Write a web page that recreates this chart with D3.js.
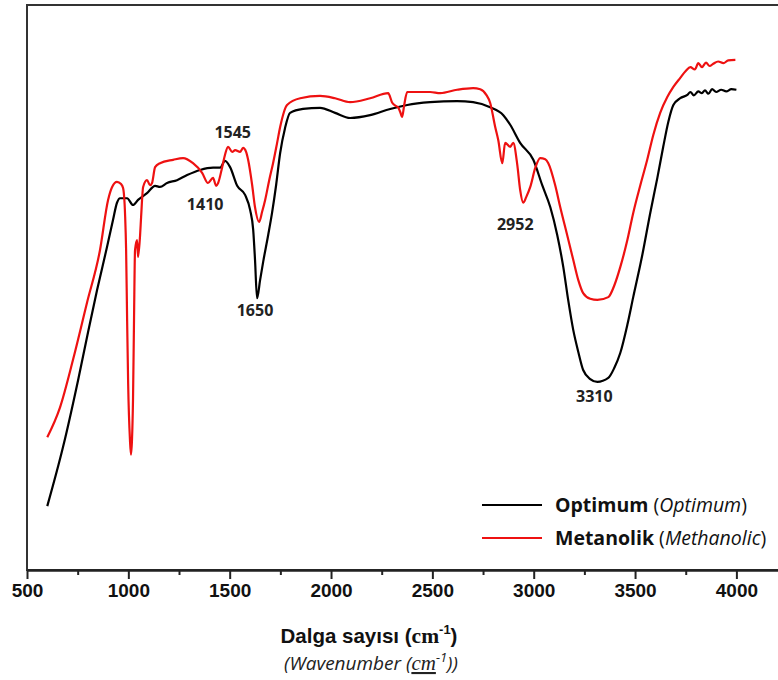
<!DOCTYPE html>
<html>
<head>
<meta charset="utf-8">
<script src="https://cdn.jsdelivr.net/npm/d3@7"></script>
<style>
  body { margin: 0; background: #fff; }
  svg { display: block; }
</style>
</head>
<body>
<div id="chart"></div>
<script>
// FTIR spectra: wavenumber (cm-1) vs transmittance (arbitrary %)
const optimum = [
  [600,11.3],[678,21.8],[752,33.6],[796,41.2],[846,49.6],[895,57.2],[924,61.9],[944,65.0],
  [959,65.8],[994,65.8],[1023,64.6],[1048,65.5],[1092,66.7],[1132,68.0],[1156,67.8],[1191,68.5],
  [1240,69.0],[1290,69.9],[1354,70.8],[1418,71.2],[1453,71.2],[1477,72.4],[1502,71.3],[1537,68.0],
  [1576,66.4],[1601,63.7],[1616,60.2],[1625,54.9],[1635,48.1],[1650,51.3],[1665,54.5],[1690,59.3],
  [1709,63.2],[1729,68.1],[1749,73.8],[1773,78.2],[1798,80.9],[1862,81.6],[1946,81.8],[2020,80.9],
  [2094,80.0],[2193,80.5],[2292,81.6],[2376,82.3],[2489,82.8],[2622,83.0],[2701,82.8],[2785,81.9],
  [2850,80.5],[2884,78.8],[2933,75.6],[2998,72.6],[3042,68.1],[3082,64.2],[3116,59.3],[3146,53.6],
  [3170,47.8],[3195,42.5],[3220,38.6],[3244,35.4],[3279,33.8],[3314,33.3],[3368,34.0],[3398,35.8],
  [3427,38.4],[3462,43.4],[3491,48.3],[3536,55.8],[3575,63.2],[3610,69.4],[3639,74.9],[3664,79.3],
  [3689,82.3],[3723,83.5],[3758,84.1],[3773,84.6],[3790,84.0],[3812,84.7],[3830,84.4],[3845,84.9],
  [3862,84.3],[3880,85.1],[3900,84.6],[3925,85.0],[3950,84.7],[3975,85.1],[4000,85.0]
];

const methanolic = [
  [600,23.5],[663,28.8],[727,37.2],[796,47.3],[860,56.6],[900,65.5],[920,67.8],[944,68.7],
  [964,68.3],[974,67.6],[984,62.8],[989,56.6],[994,44.2],[999,33.1],[1008,23.0],[1013,20.4],
  [1018,23.0],[1023,30.1],[1028,44.2],[1033,56.6],[1043,58.4],[1048,55.4],[1058,59.3],[1063,62.5],
  [1073,67.8],[1092,69.0],[1107,68.1],[1117,68.5],[1132,71.3],[1156,72.0],[1221,72.6],[1270,72.9],
  [1319,72.0],[1364,70.3],[1393,68.5],[1418,69.4],[1433,68.0],[1443,68.5],[1463,71.3],[1477,73.5],
  [1492,74.9],[1512,74.0],[1527,74.3],[1551,74.0],[1566,74.7],[1581,74.0],[1591,72.6],[1611,68.1],
  [1625,64.2],[1645,61.6],[1660,63.4],[1675,65.5],[1695,69.0],[1714,72.0],[1734,75.6],[1749,78.4],
  [1783,82.3],[1848,83.5],[1946,83.9],[2020,83.5],[2094,82.8],[2193,83.5],[2282,84.4],[2302,82.7],
  [2321,82.1],[2331,81.9],[2341,81.1],[2351,80.2],[2361,82.3],[2376,84.6],[2489,84.6],[2539,84.4],
  [2622,85.0],[2701,85.3],[2736,85.1],[2766,84.1],[2785,82.7],[2810,78.4],[2825,76.1],[2845,72.0],
  [2859,75.6],[2884,74.9],[2899,75.6],[2919,71.7],[2933,67.3],[2948,65.0],[2963,66.0],[2983,67.8],
  [3008,71.2],[3032,72.9],[3057,72.7],[3072,72.0],[3106,68.1],[3131,64.2],[3165,59.3],[3195,54.9],
  [3220,51.3],[3244,49.0],[3279,48.0],[3314,47.8],[3368,48.3],[3398,50.4],[3427,53.6],[3462,58.4],
  [3491,63.2],[3526,68.1],[3560,72.6],[3590,77.0],[3624,80.9],[3659,83.7],[3689,85.5],[3723,87.1],
  [3750,88.3],[3773,89.0],[3795,88.6],[3812,89.7],[3830,89.0],[3850,89.8],[3868,89.2],[3886,89.6],
  [3910,90.0],[3936,89.7],[3960,90.2],[3995,90.3]
];

const majorTicks = [500, 1000, 1500, 2000, 2500, 3000, 3500, 4000];
const minorTicks = [750, 1250, 1750, 2250, 2750, 3250, 3750];

// peak labels, anchored in data units
const peakLabels = [
  { text: "1545", wn: 1515, t: 76.5 },
  { text: "1410", wn: 1379, t: 63.7 },
  { text: "1650", wn: 1625, t: 45.0 },
  { text: "2952", wn: 2909, t: 60.2 },
  { text: "3310", wn: 3299, t: 29.7 }
];

const seriesNames = [
  { tr: "Optimum", en: "Optimum", color: "#000000", values: optimum },
  { tr: "Metanolik", en: "Methanolic", color: "#ee1111", values: methanolic }
];

const margin = { top: 5, right: 0, bottom: 110, left: 27 },
      width = 755,
      height = 680 - margin.top - margin.bottom;

const svg = d3.select("#chart")
  .append("svg")
    .attr("width", 778)
    .attr("height", 680)
  .append("g")
    .attr("transform", `translate(${margin.left},${margin.top})`);

const x = d3.scaleLinear()
  .domain([500, 4225])
  .range([0, width]);

const y = d3.scaleLinear()
  .domain([0, 100])
  .range([height, 0]);

// frame (right side falls outside the picture)
svg.append("rect")
  .attr("x", 0)
  .attr("y", 0)
  .attr("width", width)
  .attr("height", height)
  .attr("fill", "none")
  .attr("stroke", "#333")
  .attr("stroke-width", 2);

// minor ticks
svg.append("g")
  .attr("transform", `translate(0,${height})`)
  .call(d3.axisBottom(x).tickValues(minorTicks).tickSize(5).tickFormat(""))
  .call(g => g.select(".domain").remove())
  .selectAll("line").attr("stroke", "#222").attr("stroke-width", 2);

// major ticks + labels
const xAxis = svg.append("g")
  .attr("transform", `translate(0,${height})`)
  .call(d3.axisBottom(x).tickValues(majorTicks).tickSize(9).tickSizeOuter(0).tickPadding(5).tickFormat(d3.format("d")));

xAxis.select(".domain").attr("stroke", "#222").attr("stroke-width", 2.5);
xAxis.selectAll(".tick line").attr("stroke", "#222").attr("stroke-width", 2);
xAxis.selectAll(".tick text")
  .attr("fill", "#111")
  .style("font-family", "'Liberation Sans', Arial, sans-serif")
  .style("font-weight", "bold")
  .style("font-size", "19px");

// axis titles
const title = svg.append("text")
  .attr("x", 342)
  .attr("y", 638)
  .attr("text-anchor", "middle")
  .attr("fill", "#111")
  .style("font-weight", "bold");
title.append("tspan")
  .style("font-family", "'Liberation Sans', sans-serif")
  .style("font-size", "20.5px")
  .text("Dalga sayısı (");
title.append("tspan")
  .style("font-family", "'Liberation Serif', 'DejaVu Serif', serif")
  .style("font-size", "21.5px")
  .text("cm");
title.append("tspan")
  .attr("dy", -9)
  .style("font-family", "'Liberation Sans', sans-serif")
  .style("font-size", "13px")
  .text("-1");
title.append("tspan")
  .attr("dy", 9)
  .style("font-family", "'Liberation Sans', sans-serif")
  .style("font-size", "20.5px")
  .text(")");

const subtitle = svg.append("text")
  .attr("x", 344)
  .attr("y", 665)
  .attr("text-anchor", "middle")
  .attr("fill", "#222")
  .style("font-style", "italic")
  .style("font-family", "'Open Sans', 'Noto Sans', sans-serif")
  .style("font-size", "19px");
subtitle.append("tspan").text("(Wavenumber (");
subtitle.append("tspan")
  .style("font-family", "'Liberation Serif', 'DejaVu Serif', serif")
  .style("font-size", "21px")
  .style("text-decoration", "underline")
  .text("cm");
subtitle.append("tspan")
  .attr("dy", -8)
  .style("font-size", "13px")
  .text("-1");
subtitle.append("tspan")
  .attr("dy", 8)
  .text("))");

// spectra
const line = d3.line()
  .curve(d3.curveMonotoneX)
  .x(d => x(d[0]))
  .y(d => y(d[1]));

svg.selectAll(".spectrum")
  .data(seriesNames)
  .join("path")
    .attr("class", "spectrum")
    .attr("fill", "none")
    .attr("stroke", d => d.color)
    .attr("stroke-width", 2.2)
    .attr("stroke-linejoin", "round")
    .attr("d", d => line(d.values));

// peak labels
svg.selectAll(".peak")
  .data(peakLabels)
  .join("text")
    .attr("class", "peak")
    .attr("x", d => x(d.wn))
    .attr("y", d => y(d.t))
    .attr("text-anchor", "middle")
    .attr("fill", "#222")
    .style("font-family", "'Open Sans', 'Noto Sans', sans-serif")
    .style("font-weight", "bold")
    .style("font-size", "16px")
    .text(d => d.text);

// legend
const legend = svg.selectAll(".legend-item")
  .data(seriesNames)
  .join("g")
    .attr("class", "legend-item")
    .attr("transform", (d, i) => `translate(455, ${500 + i * 33})`);

legend.append("line")
  .attr("x1", 0)
  .attr("x2", 60)
  .attr("stroke", d => d.color)
  .attr("stroke-width", 2.2);

const legendText = legend.append("text")
  .attr("x", 73)
  .attr("y", 7)
  .attr("fill", "#111")
  .style("font-family", "'Open Sans', 'Noto Sans', sans-serif")
  .style("font-size", "19.5px");
legendText.append("tspan")
  .style("font-weight", "bold")
  .text(d => d.tr);
legendText.append("tspan").text(" (");
legendText.append("tspan")
  .style("font-style", "italic")
  .text(d => d.en);
legendText.append("tspan").text(")");
</script>
</body>
</html>
